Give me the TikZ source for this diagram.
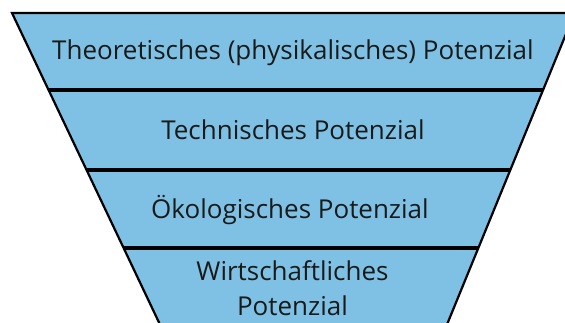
\documentclass[tikz,border=0pt]{standalone}
\usepackage{fontspec}
\setmainfont{Open Sans}
\definecolor{funnelblue}{RGB}{126,193,228}
\definecolor{txt}{RGB}{26,26,26}
\tikzset{
  outline/.style={draw=black, line width=2.2pt, line join=miter},
  sepline/.style={draw=black, line width=3.6pt},
  label/.style={inner sep=0pt, text=txt, font=\fontsize{26}{35}\selectfont, align=center, anchor=base},
}
\begin{document}
\begin{tikzpicture}[x=1pt,y=-1pt]
\useasboundingbox (0,0) rectangle (565,322);
\clip (0,0) rectangle (565,322);
% funnel edges: L(y)=12+0.475(y-13), R(y)=543-0.41(y-90)
\coordinate (tl) at (12,13);
\coordinate (tr) at (574.6,13);
\coordinate (bl) at (160.2,325);
\coordinate (br) at (446.8,325);
\coordinate (l1) at (48.6,90);
\coordinate (r1) at (543,90);
\coordinate (l2) at (86.6,170);
\coordinate (r2) at (510.2,170);
\coordinate (l3) at (123.6,248);
\coordinate (r3) at (478.2,248);
\fill[funnelblue] (tl) -- (tr) -- (br) -- (bl) -- cycle;
\draw[sepline] (l1) -- (r1);
\draw[sepline] (l2) -- (r2);
\draw[sepline] (l3) -- (r3);
\draw[outline] (bl) -- (tl) -- (tr) -- (br);
\node[label] (t1) at (293,59) {Theoretisches (physikalisches) Potenzial};
\node[label] (t2) at (293,139) {Technisches Potenzial};
\node[label] (t3) at (290,218) {Ökologisches Potenzial};
\node[label] (t4) at (292.5,315) {Wirtschaftliches\\Potenzial};
\end{tikzpicture}
\end{document}
